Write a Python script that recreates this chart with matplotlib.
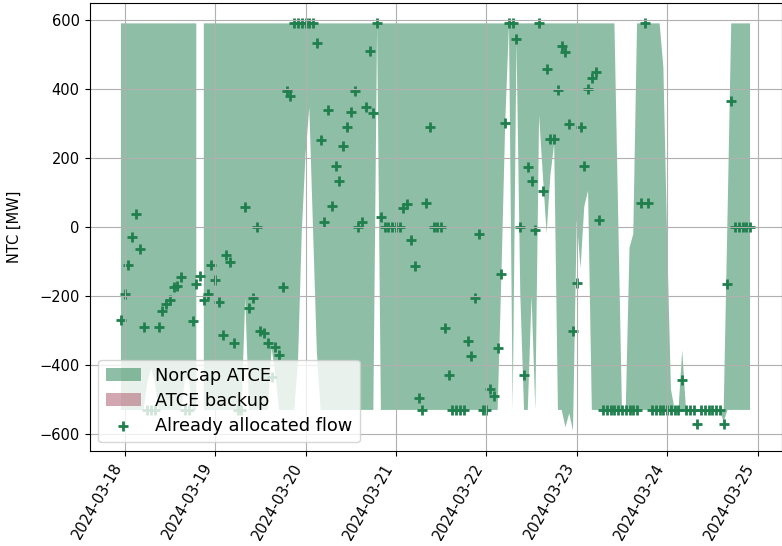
import numpy as np
import pandas as pd
import matplotlib
matplotlib.use("Agg")
import matplotlib.pyplot as plt
import matplotlib.dates as mdates

nan = float("nan")

# one week of hourly MTUs (UTC)
times = pd.date_range("2024-03-17 23:00", periods=168, freq="h")

# NorCap ATCE domain, upper / lower bound [MW]
norcap_upper = (
    [590] * 21 + [nan] + [590, 590]
    + [590] * 24
    + [590] * 24
    + [590] * 24
    + [590] * 24
    + [590] * 12 + [30, -530, -530, -60, -20] + [590] * 7
    + [462, -40, -470, -530, -530, -357] + [-530] * 11 + [20] + [590] * 6
)
norcap_lower = (
    [-530] * 7 + [-450, -410, -450] + [-530] * 7 + [-440, -440, -530, -530, nan, -530, -530]
    + [-530] * 9 + [-205] + [-530] * 6 + [-350, -430] + [-530] * 5 + [-390]
    + [-15, 210, 346, -10, -360] + [-530] * 15 + [585] + [-530] * 3
    + [-530] * 24
    + [-530] * 5 + [-140, 300, 585, -530, 540, -190, -530, -530, -200, -530,
                    323, 150, -19, 150, 241, -530, -530, -580, -540]
    + [-590, 20, -120, 60, 105] + [-530] * 19
    + [-530] * 16 + [-565] + [-530] * 7
)

# ATCE backup was not activated this week
backup_upper = [nan] * 168
backup_lower = [nan] * 168

# already allocated flow [MW]
flow = [
    -270, -193, -111, -30, 38, -63, -290, -530, -530, -530, -290, -243,
    -222, -212, -174, -170, -145, -530, -530, -272, -164, -143, -212, -195,
    -111, -155, -217, -312, -82, -102, -336, -530, -530, 57, -234, -206,
    0, -302, -307, -336, -434, -348, -372, -174, 395, 380, 590, 590,
    590, 590, 590, 590, 534, 252, 14, 339, 62, 176, 134, 236,
    289, 334, 395, 0, 14, 348, 510, 329, 590, 28, 0, 0,
    0, 0, 0, 55, 67, -37, -114, -495, -530, 70, 289, 0,
    0, 0, -293, -428, -530, -530, -530, -530, -330, -374, -206, -20,
    -530, -530, -468, -490, -352, -137, 300, 590, 590, 546, 0, -428,
    173, 132, -10, 590, 103, 457, 255, 255, 397, 523, 508, 298,
    -302, -162, 289, 178, 400, 433, 448, 19, -530, -530, -530, -530,
    -530, -530, -530, -530, -530, -530, 70, 590, 70, -530, -530, -530,
    -530, -530, -530, -530, -530, -444, -530, -530, -530, -572, -530, -530,
    -530, -530, -530, -530, -572, -164, 366, 0, 0, 0, 0, 0,
]

fig = plt.figure(figsize=(7.82, 5.46), dpi=100)
ax = fig.add_axes([89.5 / 782, 95 / 546, 692 / 782, 448 / 546])

ax.fill_between(times, norcap_lower, norcap_upper, color="#1f7f4d", alpha=0.5,
                linewidth=0, label="NorCap ATCE")
ax.fill_between(times, backup_lower, backup_upper, color="#a95165", alpha=0.5,
                linewidth=0, label="ATCE backup")
ax.scatter(times, flow, marker="+", color="#1f7f4d", s=55, linewidths=2,
           label="Already allocated flow")

ax.set_ylabel("NTC [MW]", fontsize=10.5, labelpad=13)
ax.grid(True)
ax.xaxis.set_major_locator(mdates.DayLocator())
ax.xaxis.set_major_formatter(mdates.DateFormatter("%Y-%m-%d"))
ax.tick_params(labelsize=10.5)
plt.setp(ax.get_xticklabels(), rotation=60, ha="right")
ax.legend(loc="lower left", fontsize=12.8, labelspacing=0.4)

fig.savefig("out.png", dpi=100)
